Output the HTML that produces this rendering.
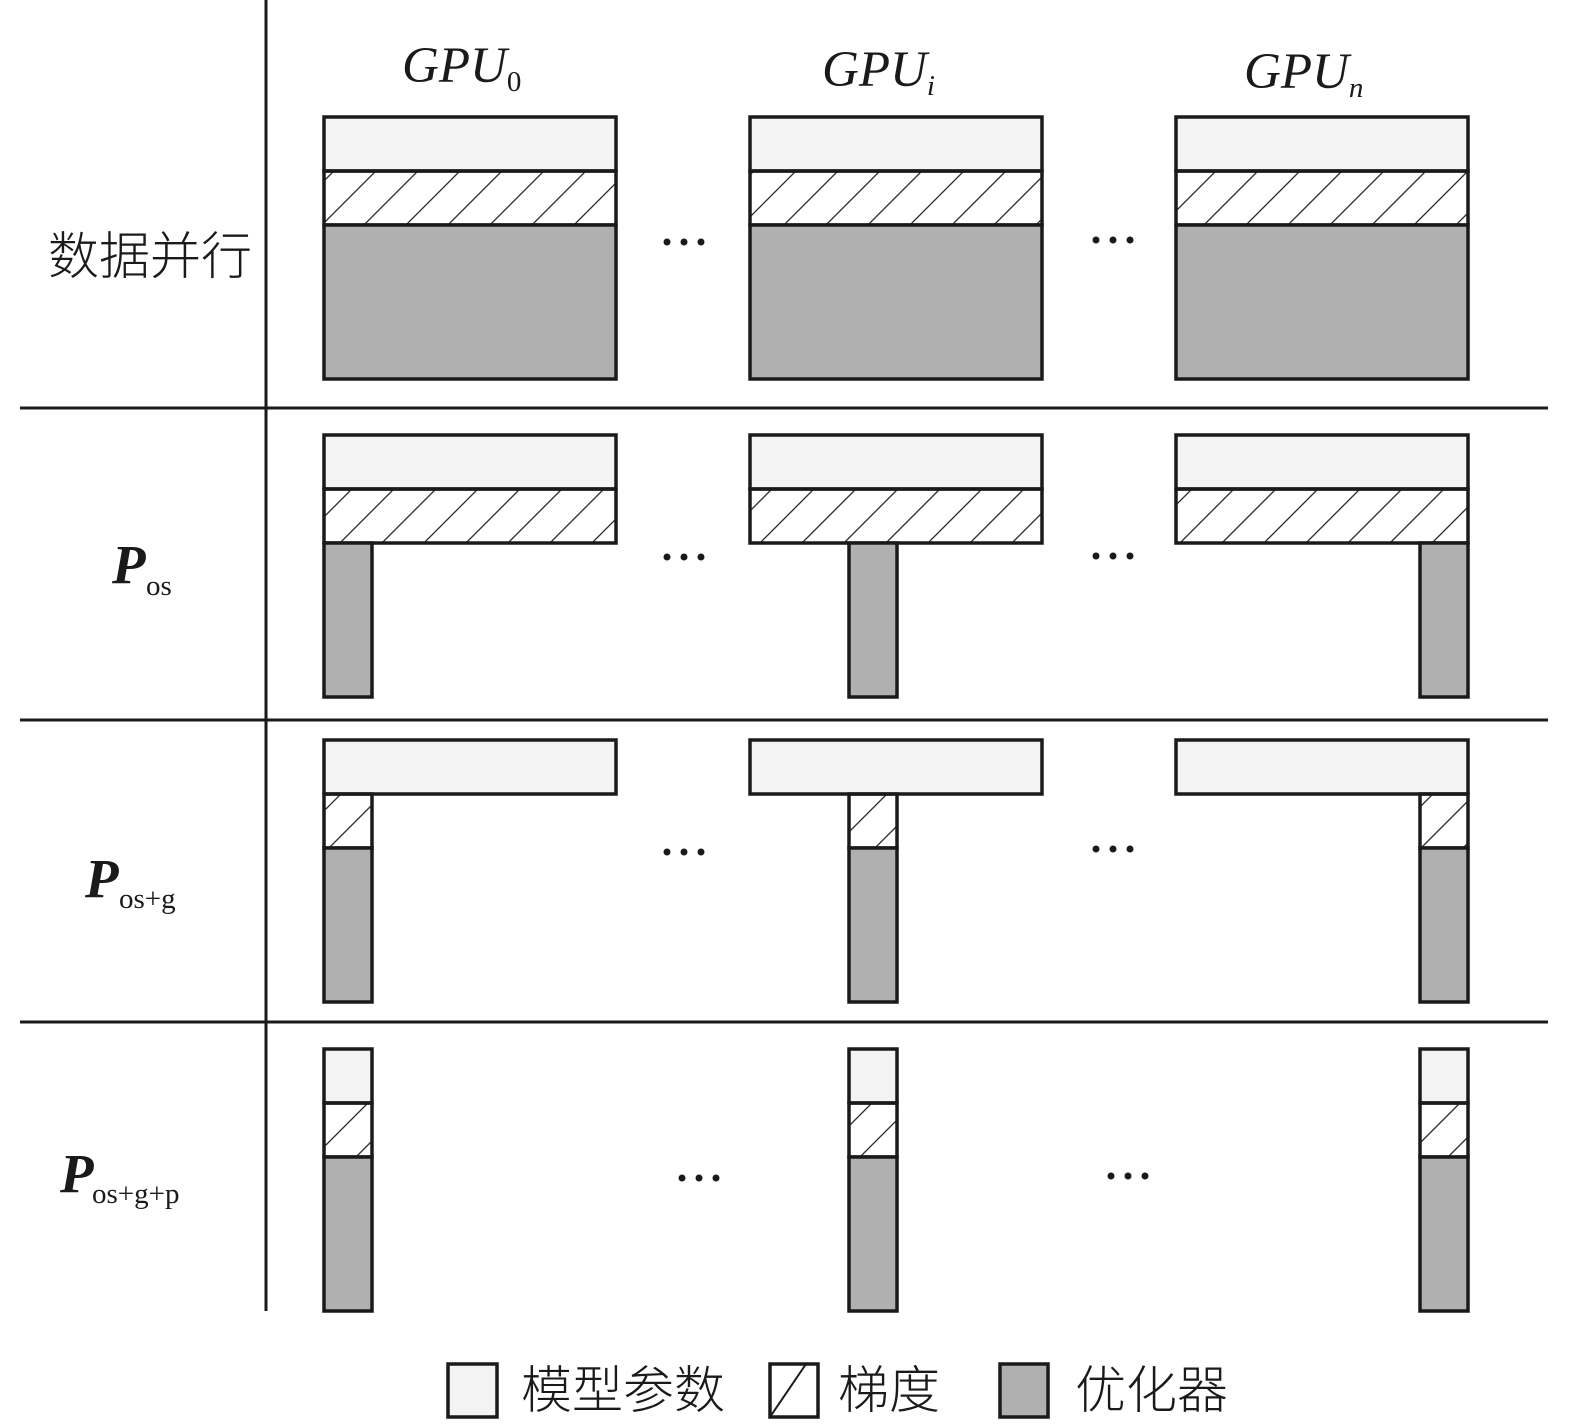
<!DOCTYPE html>
<html><head><meta charset="utf-8"><style>
html,body{margin:0;padding:0;background:#fff;overflow:hidden;width:1575px;height:1427px;}
svg{display:block;}
.t{font-family:"Liberation Serif",serif;fill:#1a1a1a;}
.c{font-family:"Liberation Sans","Noto Sans CJK SC",sans-serif;fill:#1a1a1a;font-weight:300;}
</style></head><body>
<svg width="1575" height="1427" viewBox="0 0 1575 1427" xmlns="http://www.w3.org/2000/svg">
<defs>
<pattern id="h" patternUnits="userSpaceOnUse" width="29.7" height="20" patternTransform="rotate(45)">
<line x1="0" y1="-5" x2="0" y2="25" stroke="#1a1a1a" stroke-width="2.4"/>
</pattern>
</defs>
<g stroke="#1a1a1a" stroke-width="3">
<line x1="266" y1="0" x2="266" y2="1311"/>
<line x1="20" y1="408" x2="1548" y2="408"/>
<line x1="20" y1="720" x2="1548" y2="720"/>
<line x1="20" y1="1022" x2="1548" y2="1022"/>
</g>
<g stroke="#1a1a1a" stroke-width="3.5">
<rect x="324" y="117" width="292" height="54" fill="#f3f3f3"/>
<rect x="324" y="171" width="292" height="54" fill="url(#h)"/>
<rect x="324" y="225" width="292" height="154" fill="#b0b0b0"/>
<rect x="750" y="117" width="292" height="54" fill="#f3f3f3"/>
<rect x="750" y="171" width="292" height="54" fill="url(#h)"/>
<rect x="750" y="225" width="292" height="154" fill="#b0b0b0"/>
<rect x="1176" y="117" width="292" height="54" fill="#f3f3f3"/>
<rect x="1176" y="171" width="292" height="54" fill="url(#h)"/>
<rect x="1176" y="225" width="292" height="154" fill="#b0b0b0"/>
<rect x="324" y="435" width="292" height="54" fill="#f3f3f3"/>
<rect x="324" y="489" width="292" height="54" fill="url(#h)"/>
<rect x="324" y="543" width="48" height="154" fill="#b0b0b0"/>
<rect x="750" y="435" width="292" height="54" fill="#f3f3f3"/>
<rect x="750" y="489" width="292" height="54" fill="url(#h)"/>
<rect x="849" y="543" width="48" height="154" fill="#b0b0b0"/>
<rect x="1176" y="435" width="292" height="54" fill="#f3f3f3"/>
<rect x="1176" y="489" width="292" height="54" fill="url(#h)"/>
<rect x="1420" y="543" width="48" height="154" fill="#b0b0b0"/>
<rect x="324" y="740" width="292" height="54" fill="#f3f3f3"/>
<rect x="324" y="794" width="48" height="54" fill="url(#h)"/>
<rect x="324" y="848" width="48" height="154" fill="#b0b0b0"/>
<rect x="750" y="740" width="292" height="54" fill="#f3f3f3"/>
<rect x="849" y="794" width="48" height="54" fill="url(#h)"/>
<rect x="849" y="848" width="48" height="154" fill="#b0b0b0"/>
<rect x="1176" y="740" width="292" height="54" fill="#f3f3f3"/>
<rect x="1420" y="794" width="48" height="54" fill="url(#h)"/>
<rect x="1420" y="848" width="48" height="154" fill="#b0b0b0"/>
<rect x="324" y="1049" width="48" height="54" fill="#f3f3f3"/>
<rect x="324" y="1103" width="48" height="54" fill="url(#h)"/>
<rect x="324" y="1157" width="48" height="154" fill="#b0b0b0"/>
<rect x="849" y="1049" width="48" height="54" fill="#f3f3f3"/>
<rect x="849" y="1103" width="48" height="54" fill="url(#h)"/>
<rect x="849" y="1157" width="48" height="154" fill="#b0b0b0"/>
<rect x="1420" y="1049" width="48" height="54" fill="#f3f3f3"/>
<rect x="1420" y="1103" width="48" height="54" fill="url(#h)"/>
<rect x="1420" y="1157" width="48" height="154" fill="#b0b0b0"/>
<rect x="448" y="1364" width="49" height="53" fill="#f3f3f3"/>
<rect x="770" y="1364" width="48" height="53" fill="#fff"/>
<line x1="770" y1="1417" x2="806" y2="1364" stroke-width="2"/>
<rect x="1000" y="1364" width="48" height="53" fill="#b0b0b0"/>
</g>
<g fill="#1a1a1a">
<circle cx="667" cy="242" r="3.5"/><circle cx="684" cy="242" r="3.5"/><circle cx="701" cy="242" r="3.5"/>
<circle cx="1096" cy="240" r="3.5"/><circle cx="1113" cy="240" r="3.5"/><circle cx="1130" cy="240" r="3.5"/>
<circle cx="667" cy="557" r="3.5"/><circle cx="684" cy="557" r="3.5"/><circle cx="701" cy="557" r="3.5"/>
<circle cx="1096" cy="556" r="3.5"/><circle cx="1113" cy="556" r="3.5"/><circle cx="1130" cy="556" r="3.5"/>
<circle cx="667" cy="852" r="3.5"/><circle cx="684" cy="852" r="3.5"/><circle cx="701" cy="852" r="3.5"/>
<circle cx="1096" cy="849" r="3.5"/><circle cx="1113" cy="849" r="3.5"/><circle cx="1130" cy="849" r="3.5"/>
<circle cx="682" cy="1178" r="3.5"/><circle cx="699" cy="1178" r="3.5"/><circle cx="716" cy="1178" r="3.5"/>
<circle cx="1111" cy="1176" r="3.5"/><circle cx="1128" cy="1176" r="3.5"/><circle cx="1145" cy="1176" r="3.5"/>
</g>
<text class="t" x="402" y="82" font-size="51" font-style="italic">GPU<tspan font-size="29" font-style="normal" dy="9">0</tspan></text>
<text class="t" x="822" y="86" font-size="51" font-style="italic">GPU<tspan font-size="29" dy="9">i</tspan></text>
<text class="t" x="1244" y="88" font-size="51" font-style="italic">GPU<tspan font-size="29" dy="9">n</tspan></text>
<text class="c" x="48" y="274" font-size="51">数据并行</text>
<text class="t" x="112" y="583" font-size="55" font-style="italic" font-weight="bold">P</text>
<text class="t" x="146" y="595" font-size="29">os</text>
<text class="t" x="85" y="897" font-size="55" font-style="italic" font-weight="bold">P</text>
<text class="t" x="119" y="908" font-size="29">os+g</text>
<text class="t" x="60" y="1192" font-size="55" font-style="italic" font-weight="bold">P</text>
<text class="t" x="92" y="1203" font-size="29">os+g+p</text>
<text class="c" x="521" y="1408" font-size="51">模型参数</text>
<text class="c" x="838" y="1408" font-size="51">梯度</text>
<text class="c" x="1075" y="1408" font-size="51">优化器</text>
</svg>
</body></html>
